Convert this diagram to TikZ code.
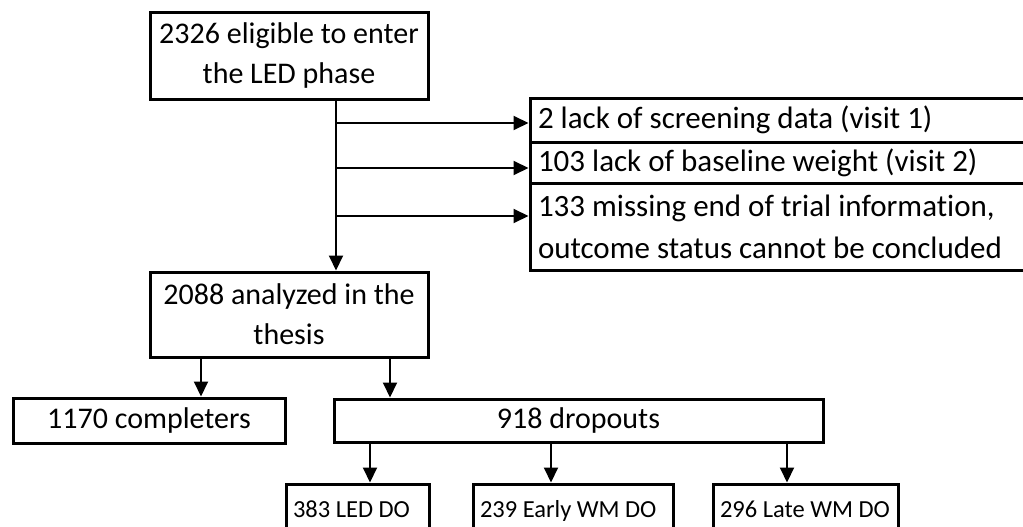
\documentclass[tikz,border=0pt]{standalone}
\usepackage{fontspec}
\setmainfont{Carlito}[Ligatures=NoCommon]
\usetikzlibrary{arrows.meta}
\begin{document}
\begin{tikzpicture}[x=1pt,y=-1pt,
  box/.style={draw=black, line width=3pt, inner sep=0pt, font=\fontsize{30}{40}\selectfont, align=center},
  side/.style={draw=black, line width=3pt, inner xsep=8pt, inner ysep=0pt, font=\fontsize{31}{42}\selectfont, align=flush left, text width=484pt},
  small/.style={draw=black, line width=3pt, inner xsep=7pt, inner ysep=0pt, font=\fontsize{24.5}{28}\selectfont, align=flush left, minimum height=52pt, text height=20pt, text depth=6pt},
  arr/.style={line width=2pt, -{Triangle[length=15pt,width=14pt]}}]
\useasboundingbox (0,0) rectangle (1023,527);
% main boxes
\node[box, minimum width=278pt, minimum height=86pt] (top) at (289,56) {2326 eligible to enter\\the LED phase};
\node[box, minimum width=278pt, minimum height=85pt] (anl) at (289,314.5) {2088 analyzed in the\\thesis};
% side boxes
\node[side, minimum height=44pt] (sa) at (780,120) {2 lack of screening data (visit 1)};
\node[side, minimum height=41pt] (sb) at (780,162.5) {103 lack of baseline weight (visit 2)};
\node[side, minimum height=87pt] (sc) at (780,226.5) {133 missing end of trial information,\\outcome status cannot be concluded};
% second level
\node[box, minimum width=272pt, minimum height=45pt] (comp) at (149,420.5) {1170 completers};
\node[box, minimum width=489pt, minimum height=43pt] (drop) at (578.5,420.5) {918 dropouts};
% third level
\node[small, text width=129pt] (led) at (357.5,510) {383 LED DO};
\node[small, text width=186pt] (early) at (573,510) {239 Early WM DO};
\node[small, text width=171pt] (late) at (805.5,510) {296 Late WM DO};
% connectors
\coordinate (tr) at (336,0);
\coordinate (b1) at (336,123);
\coordinate (b2) at (336,168);
\coordinate (b3) at (336,216);
\draw[arr] (top.south -| tr) -- (anl.north -| tr);
\draw[arr] (b1) -- (sa.west |- b1);
\draw[arr] (b2) -- (sb.west |- b2);
\draw[arr] (b3) -- (sc.west |- b3);
\coordinate (c1) at (201,0);
\coordinate (c2) at (390,0);
\draw[arr] (anl.south -| c1) -- (comp.north -| c1);
\draw[arr] (anl.south -| c2) -- (drop.north -| c2);
\coordinate (d1) at (370,0);
\coordinate (d2) at (551,0);
\coordinate (d3) at (787,0);
\draw[arr] (drop.south -| d1) -- (led.north -| d1);
\draw[arr] (drop.south -| d2) -- (early.north -| d2);
\draw[arr] (drop.south -| d3) -- (late.north -| d3);
\end{tikzpicture}
\end{document}
